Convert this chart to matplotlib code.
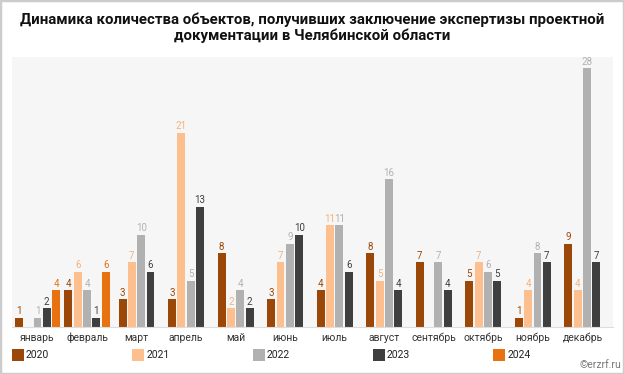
import numpy as np
import matplotlib.pyplot as plt
from matplotlib.patches import Rectangle

plt.rcParams['font.family'] = ['Roboto', 'DejaVu Sans']

months = ['январь', 'февраль', 'март', 'апрель', 'май', 'июнь',
          'июль', 'август', 'сентябрь', 'октябрь', 'ноябрь', 'декабрь']
years = ['2020', '2021', '2022', '2023', '2024']

v2020 = [1, 4, 3, 3, 8, 3, 4, 8, 7, 5, 1, 9]
v2021 = [0, 6, 7, 21, 2, 7, 11, 5, 0, 7, 4, 4]
v2022 = [1, 4, 10, 5, 4, 9, 11, 16, 7, 6, 8, 28]
v2023 = [2, 1, 6, 13, 2, 10, 6, 4, 4, 5, 7, 7]
v2024 = [4, 6, None, None, None, None, None, None, None, None, None, None]

series = [v2020, v2021, v2022, v2023, v2024]
colors = ['#9a4708', '#fcbf8d', '#b1b1b1', '#3f3f3f', '#e8720f']

fig = plt.figure(figsize=(6.24, 3.74), dpi=100)
ax = fig.add_axes([0.0192, 0.1257, 0.9630, 0.7219])
ax.set_facecolor('#f6f6f6')

slot = 0.188
width = 0.16
for m in range(len(months)):
    present = [k for k in range(len(series)) if series[k][m] is not None]
    n = len(present)
    for i, k in enumerate(present):
        val = series[k][m]
        x = m + (i - (n - 1) / 2) * slot
        if val == 0:
            continue
        ax.bar(x, val, width=width, color=colors[k], zorder=2)
        ax.text(x, val + 0.15, str(val), ha='center', va='bottom',
                fontsize=7, color=colors[k] if k != 1 else '#f5b27a')

ax.set_xlim(-0.515, 11.616)
ax.set_ylim(0, 29.2)
ax.set_xticks(range(len(months)))
ax.set_xticklabels(months, fontsize=7.5, color='#333333')
ax.tick_params(axis='x', length=0, pad=4)
ax.set_yticks([])
for s in ['top', 'right', 'left']:
    ax.spines[s].set_visible(False)
ax.spines['bottom'].set_color('#dddddd')

fig.text(0.5, 0.925, 'Динамика количества объектов, получивших заключение экспертизы проектной\n'
         'документации в Челябинской области', ha='center', va='center',
         fontsize=10.8, fontweight='bold', color='#111111', linespacing=1.15)

# legend drawn by hand at fixed spacing
W, H = 624.0, 374.0
for j, (c, y) in enumerate(zip(colors, years)):
    x0 = 12 + j * 120.3
    fig.add_artist(Rectangle((x0 / W, 349 / H * 0 + (374 - 361) / H), 12 / W, 12 / H,
                             transform=fig.transFigure, facecolor=c, edgecolor='none'))
    fig.text((x0 + 14) / W, (374 - 355) / H, y, ha='left', va='center',
             fontsize=7.5, color='#222222')

fig.text(0.995, 0.012, '©erzrf.ru', ha='right', va='bottom', fontsize=7.5, color='#777777')

fig.add_artist(Rectangle((0, 0), 1, 1, transform=fig.transFigure, fill=False,
                         edgecolor='#cccccc', linewidth=2.5))

fig.savefig('out.png', dpi=100)
